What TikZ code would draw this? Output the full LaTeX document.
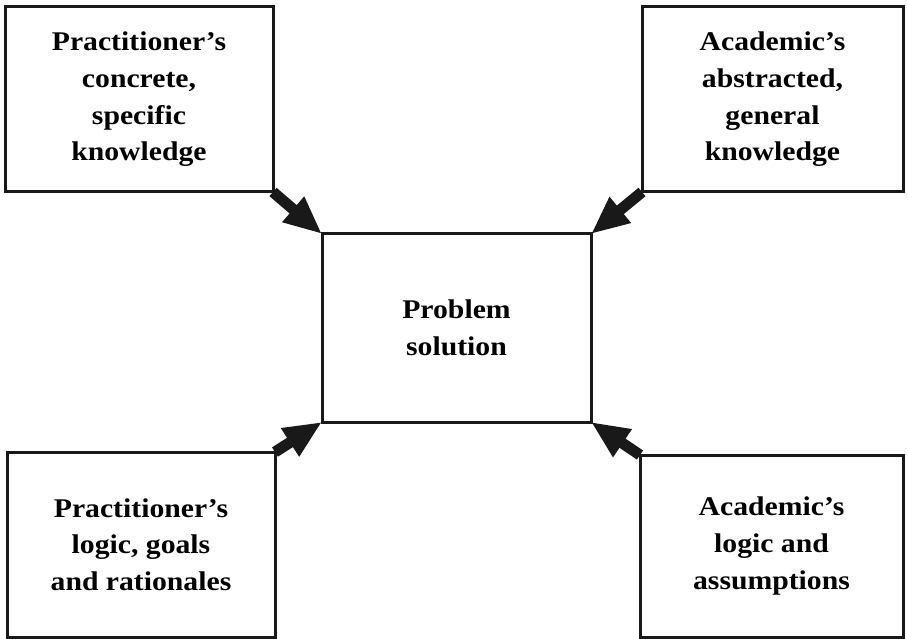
\documentclass[tikz,border=0pt]{standalone}
\usepackage{fontspec}
\setmainfont{Liberation Serif}[FakeStretch=1.1]
\usetikzlibrary{arrows.meta}
\tikzset{
  box/.style={draw=black!90, line width=3pt, outer sep=0pt, inner sep=0pt,
    align=center, font=\fontsize{27}{36.7}\selectfont\bfseries},
  bigarrow/.style={draw=black!90, line width=11pt,
    -{Triangle[length=38pt,width=31pt]}}
}
\begin{document}
\begin{tikzpicture}[x=1pt,y=-1pt]
\useasboundingbox (0,0) rectangle (908,639);
\node[box, minimum width=268pt, minimum height=185pt] (tl) at (139,99.5)
  {Practitioner’s\\concrete,\\specific\\knowledge};
\node[box, minimum width=261pt, minimum height=185pt] (tr) at (772.5,99.5)
  {Academic’s\\abstracted,\\general\\knowledge};
\node[box, minimum width=269pt, minimum height=188pt] (c) at (456.5,328)
  {Problem\\solution};
\node[box, minimum width=268pt, minimum height=185pt] (bl) at (141,544.5)
  {Practitioner’s\\logic, goals\\and rationales};
\node[box, minimum width=263pt, minimum height=182pt] (br) at (771.5,546)
  {Academic’s\\logic and\\assumptions};
\draw[bigarrow] (tl.south east) -- (c.north west);
\draw[bigarrow] (tr.south west) -- (c.north east);
\draw[bigarrow] (bl.north east) -- (c.south west);
\draw[bigarrow] (br.north west) -- (c.south east);
\end{tikzpicture}
\end{document}
